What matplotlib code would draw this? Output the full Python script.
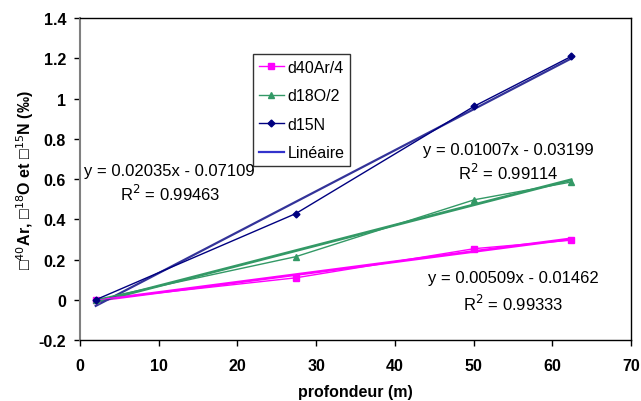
import matplotlib
matplotlib.use("Agg")
import matplotlib.pyplot as plt
import numpy as np

plt.rcParams['font.family'] = ['Liberation Sans', 'DejaVu Sans']

# depth of the samples (m)
depth = [2.0, 27.4, 50.1, 62.4]
d40ar = [0.0, 0.109, 0.254, 0.296]
d18o = [0.0, 0.214, 0.497, 0.585]
d15n = [0.0, 0.428, 0.962, 1.209]

# linear fits as printed on the chart
fits = {
    'd15N': (0.02035, -0.07109, 0.99463),
    'd18O': (0.01007, -0.03199, 0.99114),
    'd40Ar': (0.00509, -0.01462, 0.99333),
}

fig = plt.figure(figsize=(6.41, 4.02), dpi=100)
ax = fig.add_axes([0.1248, 0.1517, 0.8596, 0.801])

x_fit = np.array([min(depth), max(depth)])

# trendlines
a, b, _ = fits['d40Ar']
ax.plot(x_fit, a * x_fit + b, color='#ff00ff', lw=2.0, zorder=2)
a, b, _ = fits['d18O']
ax.plot(x_fit, a * x_fit + b, color='#339966', lw=2.0, zorder=2)
a, b, _ = fits['d15N']
ax.plot(x_fit, a * x_fit + b, color='#333399', lw=1.6, zorder=2)

# data series
ax.plot(depth, d40ar, color='#ff00ff', lw=1, marker='s', ms=5, label='d40Ar/4', zorder=3)
ax.plot(depth, d18o, color='#339966', lw=1, marker='^', ms=5, label='d18O/2', zorder=3)
ax.plot(depth, d15n, color='#000080', lw=1, marker='D', ms=3.5, label='d15N', zorder=3)
ax.plot([], [], color='#3333cc', lw=1.6, label='Linéaire')

ax.set_xlim(0, 70)
ax.set_ylim(-0.2, 1.4)
ax.set_xticks(range(0, 71, 10))
ax.set_yticks([-0.2, 0, 0.2, 0.4, 0.6, 0.8, 1.0, 1.2, 1.4])
ax.set_yticklabels(['-0.2', '0', '0.2', '0.4', '0.6', '0.8', '1', '1.2', '1.4'])
for lab in ax.get_xticklabels() + ax.get_yticklabels():
    lab.set_fontweight('bold')
    lab.set_fontsize(11.5)
ax.tick_params(direction='out', length=4, width=1)
ax.tick_params(axis='x', pad=9)
ax.tick_params(axis='y', pad=6)

ax.spines['left'].set_color('#808080')
ax.spines['left'].set_linewidth(1.5)
for s in ['top', 'right', 'bottom']:
    ax.spines[s].set_color('black')
    ax.spines[s].set_linewidth(1)

ax.set_xlabel('profondeur (m)', fontweight='bold', fontsize=11.5, labelpad=8)
ax.set_ylabel('\u25a1$^{40}$Ar, \u25a1$^{18}$O et \u25a1$^{15}$N (\u2030)',
              fontweight='bold', fontsize=11.5, labelpad=2)

# fit equations, one line each
eq_style = dict(ha='center', va='center', fontsize=12)
a, b, r2 = fits['d15N']
ax.text(11.4, 0.642, 'y = %.5fx - %.5f' % (a, -b), **eq_style)
ax.text(11.4, 0.532, 'R$^2$ = %.5f' % r2, **eq_style)
a, b, r2 = fits['d18O']
ax.text(54.4, 0.746, 'y = %.5fx - %.5f' % (a, -b), **eq_style)
ax.text(54.4, 0.637, 'R$^2$ = %.5f' % r2, **eq_style)
a, b, r2 = fits['d40Ar']
ax.text(55.0, 0.11, 'y = %.5fx - %.5f' % (a, -b), **eq_style)
ax.text(55.0, -0.015, 'R$^2$ = %.5f' % r2, **eq_style)

leg = ax.legend(loc='upper left', bbox_to_anchor=(0.314, 0.888), fontsize=11.5,
                frameon=True, fancybox=False, edgecolor='black', handlelength=1.6,
                labelspacing=0.85, borderpad=0.35, handletextpad=0.2, borderaxespad=0)
leg.get_frame().set_linewidth(1)

fig.savefig('out.png', dpi=100)
